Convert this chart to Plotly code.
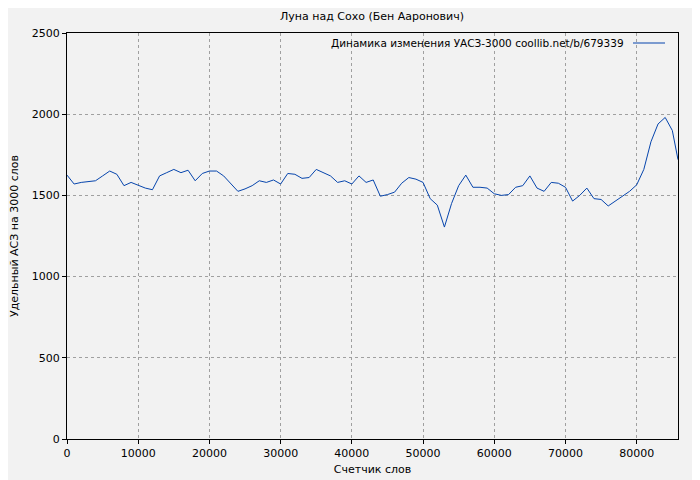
import plotly.graph_objects as go

words = [i * 1000 for i in range(86)] + [85800]
density = [1625, 1570, 1580, 1585, 1590, 1620, 1650, 1630, 1560, 1580,
           1560, 1545, 1535, 1620, 1640, 1660, 1640, 1655, 1590, 1635,
           1650, 1650, 1620, 1575, 1525, 1540, 1560, 1590, 1580, 1595,
           1570, 1635, 1630, 1605, 1610, 1660, 1640, 1620, 1580, 1590,
           1570, 1620, 1580, 1595, 1495, 1505, 1520, 1575, 1610, 1600,
           1580, 1480, 1440, 1305, 1450, 1560, 1625, 1550, 1550, 1545,
           1510, 1500, 1505, 1550, 1560, 1620, 1545, 1525, 1580, 1575,
           1550, 1465, 1500, 1545, 1480, 1475, 1435, 1465, 1490, 1525,
           1565, 1660, 1830, 1940, 1980, 1900, 1720]
series_name = "Динамика изменения УАСЗ-3000 coollib.net/b/679339"

fig = go.Figure()
fig.add_trace(go.Scatter(x=words, y=density, mode="lines", name=series_name,
                         line=dict(color="#0645ad", width=1), showlegend=False))

# page puts the figure 8px in from the top-left corner
OFF = 8
W, H = 700, 480
L, R, T, B = 67 - OFF, 700 - 678 + OFF, 33 - OFF, 480 - 439 + OFF
pw, ph = W - L - R, H - T - B

def px(x):
    return (x - OFF - L) / pw

def py(y):
    return 1 - (y - OFF - T) / ph

fig.add_annotation(text=series_name, x=px(626), y=py(43), xref="paper", yref="paper",
                   xanchor="right", yanchor="middle", showarrow=False,
                   font=dict(size=10.5, color="black"))
fig.add_shape(type="line", x0=px(633), x1=px(665), y0=py(43), y1=py(43),
              xref="paper", yref="paper", line=dict(color="#0645ad", width=1))

axis = dict(showline=True, linecolor="black", linewidth=1, mirror=True,
            gridcolor="#a0a0a0", griddash="dot", gridwidth=1, zeroline=False,
            ticks="outside", ticklen=4, tickcolor="black", automargin=False,
            tickformat="d", tickfont=dict(size=11, color="black"))
fig.update_xaxes(range=[0, 85800], dtick=10000, title=dict(text="Счетчик слов", font=dict(size=11), standoff=6), **axis)
fig.update_yaxes(range=[0, 2500], dtick=500, title=dict(text="Удельный АСЗ на 3000 слов", font=dict(size=11), standoff=16), **axis)

fig.update_layout(
    width=W, height=H,
    margin=dict(l=L, r=R, t=T, b=B),
    paper_bgcolor="#f2f2f2", plot_bgcolor="#f2f2f2",
    font=dict(family="DejaVu Sans", size=11, color="black"),
    title=dict(text="Луна над Сохо (Бен Ааронович)", x=(372 - OFF) / W, xanchor="center",
               y=1 - (16 - OFF) / H, yanchor="middle", font=dict(size=11)),
)

fig.write_html("out.html")
